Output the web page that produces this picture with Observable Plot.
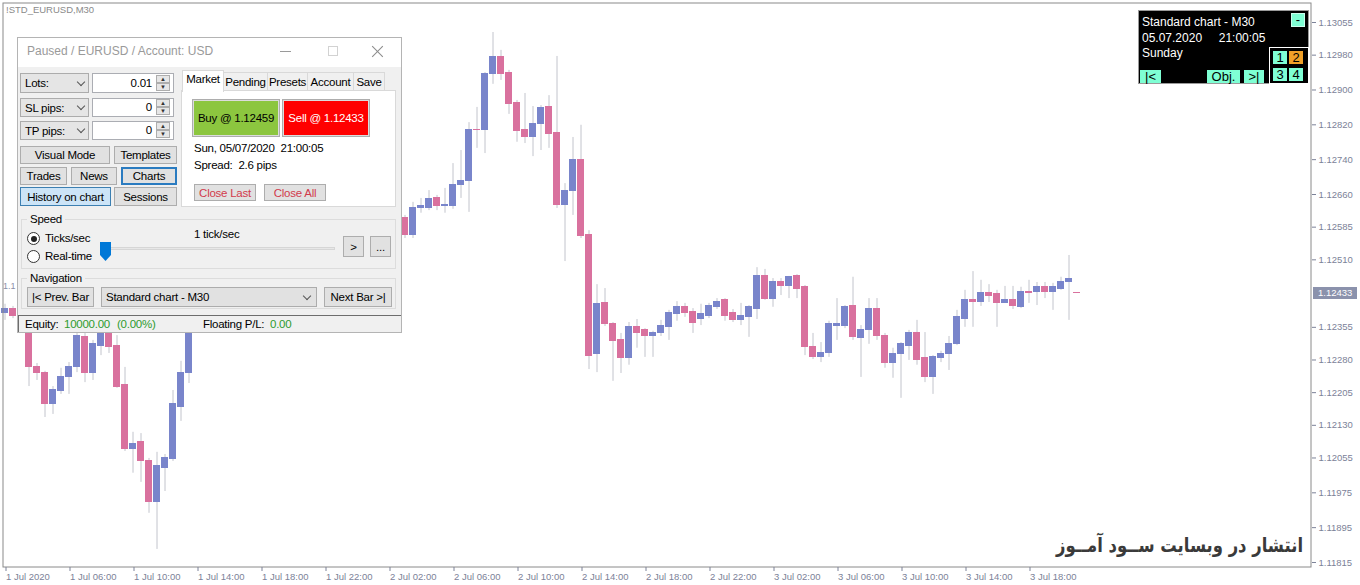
<!DOCTYPE html>
<html><head><meta charset="utf-8">
<script src="https://cdn.jsdelivr.net/npm/d3@7"></script>
<script src="https://cdn.jsdelivr.net/npm/@observablehq/plot@0.6"></script>
<style>
html,body{margin:0;background:#fff;overflow:hidden;}
#wrap{position:relative;width:1360px;height:585px;overflow:hidden;font-family:"Liberation Sans",Arial,sans-serif;}
#wrap svg{position:absolute;left:0;top:0;}
.a{position:absolute;box-sizing:border-box;white-space:pre;}
.t{position:absolute;white-space:pre;font-size:11.5px;letter-spacing:-0.25px;line-height:14px;color:#000;}
.b{position:absolute;box-sizing:border-box;background:#e1e1e1;border:1px solid #adadad;display:flex;align-items:center;justify-content:center;font-size:11.5px;letter-spacing:-0.25px;white-space:pre;color:#000;}
.dd{position:absolute;box-sizing:border-box;background:#e5e5e5;border:1px solid #acacac;font-size:11.5px;letter-spacing:-0.25px;white-space:pre;display:flex;align-items:center;padding-left:4px;}
.chev{position:absolute;width:5px;height:5px;border-right:1px solid #555;border-bottom:1px solid #555;transform:rotate(45deg);}
.inp{position:absolute;box-sizing:border-box;background:#fff;border:1px solid #abadb3;}
.spin{position:absolute;box-sizing:border-box;width:14px;height:8px;background:#e6e6e6;border:1px solid #adadad;font-size:6px;line-height:6px;text-align:center;color:#333;}
.aq{position:absolute;box-sizing:border-box;background:#7fffd4;color:#000;font-size:13px;display:flex;align-items:center;justify-content:center;line-height:12px;}
.w{position:absolute;white-space:pre;color:#fff;font-size:12px;line-height:14px;}
.g{color:#2e9b2e;}
</style></head>
<body>
<div id="wrap">
  <div class="a" style="left:6px;top:4px;font-size:9.5px;color:#8a8a8a;">!STD_EURUSD,M30</div>
  <div class="a" style="left:3px;top:281px;font-size:9px;color:#8a8fa8;">1.1</div>

  <!-- tester control window -->
  <div class="a" style="left:17px;top:37px;width:385px;height:296px;background:#f0f0f0;border:1px solid #b4b4b4;"></div>
  <div class="a" style="left:18px;top:38px;width:383px;height:29px;background:#fff;"></div>
  <div class="t" style="left:27px;top:44px;font-size:12px;color:#9a9a9a;letter-spacing:0;">Paused / EURUSD / Account: USD</div>
  <div class="a" style="left:280px;top:51px;width:11px;height:1px;background:#9a9a9a;"></div>
  <div class="a" style="left:328px;top:46px;width:10px;height:10px;border:1px solid #d2d2d2;"></div>
  <div class="a" style="left:370px;top:51px;width:15px;height:1px;background:#8a8a8a;transform:rotate(45deg);"></div>
  <div class="a" style="left:370px;top:51px;width:15px;height:1px;background:#8a8a8a;transform:rotate(-45deg);"></div>

  <div class="dd" style="left:20px;top:73px;width:69px;height:20px;">Lots:</div>
  <div class="chev" style="left:78px;top:79px;"></div>
  <div class="inp" style="left:92px;top:73px;width:82px;height:20px;"></div>
  <div class="t" style="left:100px;top:76px;width:52px;text-align:right;">0.01</div>
  <div class="spin" style="left:156px;top:75px;">▲</div><div class="spin" style="left:156px;top:83px;">▼</div>

  <div class="dd" style="left:20px;top:98px;width:69px;height:19px;">SL pips:</div>
  <div class="chev" style="left:78px;top:103px;"></div>
  <div class="inp" style="left:92px;top:98px;width:82px;height:19px;"></div>
  <div class="t" style="left:100px;top:100px;width:52px;text-align:right;">0</div>
  <div class="spin" style="left:156px;top:99px;">▲</div><div class="spin" style="left:156px;top:107px;">▼</div>

  <div class="dd" style="left:20px;top:121px;width:69px;height:19px;">TP pips:</div>
  <div class="chev" style="left:78px;top:126px;"></div>
  <div class="inp" style="left:92px;top:121px;width:82px;height:19px;"></div>
  <div class="t" style="left:100px;top:123px;width:52px;text-align:right;">0</div>
  <div class="spin" style="left:156px;top:122px;">▲</div><div class="spin" style="left:156px;top:130px;">▼</div>

  <div class="b" style="left:20px;top:146px;width:90px;height:18px;">Visual Mode</div>
  <div class="b" style="left:114px;top:146px;width:63px;height:18px;">Templates</div>
  <div class="b" style="left:20px;top:167px;width:47px;height:18px;">Trades</div>
  <div class="b" style="left:71px;top:167px;width:46px;height:18px;">News</div>
  <div class="b" style="left:121px;top:167px;width:56px;height:18px;border:2px solid #2a7bc0;">Charts</div>
  <div class="b" style="left:20px;top:187px;width:91px;height:19px;background:#cce4f7;border:1px solid #3c7fb1;">History on chart</div>
  <div class="b" style="left:114px;top:187px;width:63px;height:19px;">Sessions</div>

  <div class="a" style="left:181px;top:90px;width:215px;height:117px;background:#fff;border:1px solid #d9d9d9;"></div>
  <div class="b" style="left:223px;top:72px;width:45px;height:19px;background:#f0f0f0;border-color:#d9d9d9;">Pending</div>
  <div class="b" style="left:267px;top:72px;width:41px;height:19px;background:#f0f0f0;border-color:#d9d9d9;">Presets</div>
  <div class="b" style="left:307px;top:72px;width:47px;height:19px;background:#f0f0f0;border-color:#d9d9d9;">Account</div>
  <div class="b" style="left:353px;top:72px;width:32px;height:19px;background:#f0f0f0;border-color:#d9d9d9;">Save</div>
  <div class="b" style="left:182px;top:70px;width:42px;height:22px;background:#fff;border-color:#d9d9d9;border-bottom:none;align-items:flex-start;padding-top:2px;">Market</div>

  <div class="a" style="left:192px;top:99px;width:88px;height:38px;background:#dcdcdc;border:1px solid #adadad;"></div>
  <div class="b" style="left:194px;top:101px;width:84px;height:34px;background:#8cc63f;border:none;">Buy @ 1.12459</div>
  <div class="a" style="left:282px;top:99px;width:88px;height:38px;background:#dcdcdc;border:1px solid #adadad;"></div>
  <div class="b" style="left:284px;top:101px;width:84px;height:34px;background:#ff0000;border:none;color:#fff;">Sell @ 1.12433</div>
  <div class="t" style="left:194px;top:141px;">Sun, 05/07/2020  21:00:05</div>
  <div class="t" style="left:194px;top:158px;">Spread:  2.6 pips</div>
  <div class="b" style="left:194px;top:184px;width:62px;height:17px;color:#d23a4c;">Close Last</div>
  <div class="b" style="left:264px;top:184px;width:62px;height:17px;color:#d23a4c;">Close All</div>

  <div class="a" style="left:21px;top:219px;width:375px;height:50px;border:1px solid #dcdcdc;"></div>
  <div class="t" style="left:27px;top:212px;background:#f0f0f0;padding:0 3px;">Speed</div>
  <div class="a" style="left:27px;top:232px;width:13px;height:13px;border:1px solid #333;border-radius:50%;background:#fff;"></div>
  <div class="a" style="left:30.5px;top:235.5px;width:6px;height:6px;border-radius:50%;background:#222;"></div>
  <div class="t" style="left:45px;top:231px;">Ticks/sec</div>
  <div class="a" style="left:27px;top:250px;width:13px;height:13px;border:1px solid #333;border-radius:50%;background:#fff;"></div>
  <div class="t" style="left:45px;top:249px;">Real-time</div>
  <div class="t" style="left:194px;top:227px;">1 tick/sec</div>
  <div class="a" style="left:106px;top:247px;width:229px;height:3px;background:#e7e7e7;border:1px solid #d6d6d6;"></div>
  <div class="a" style="left:100px;top:242px;width:11px;height:19px;background:#0078d7;clip-path:polygon(0 0,100% 0,100% 68%,50% 100%,0 68%);"></div>
  <div class="b" style="left:343px;top:236px;width:21px;height:21px;">&gt;</div>
  <div class="b" style="left:370px;top:236px;width:21px;height:21px;">...</div>

  <div class="a" style="left:21px;top:278px;width:375px;height:31px;border:1px solid #dcdcdc;"></div>
  <div class="t" style="left:27px;top:271px;background:#f0f0f0;padding:0 3px;">Navigation</div>
  <div class="b" style="left:27px;top:287px;width:67px;height:20px;">|&lt; Prev. Bar</div>
  <div class="dd" style="left:101px;top:287px;width:216px;height:20px;background:#e1e1e1;">Standard chart - M30</div>
  <div class="chev" style="left:304px;top:293px;"></div>
  <div class="b" style="left:324px;top:287px;width:68px;height:20px;">Next Bar &gt;|</div>

  <div class="a" style="left:18px;top:315px;width:383px;height:17px;border-top:1px solid #6d6d6d;border-left:1px solid #6d6d6d;background:#f0f0f0;"></div>
  <div class="t" style="left:25px;top:317px;">Equity:</div>
  <div class="t g" style="left:64px;top:317px;">10000.00</div>
  <div class="t g" style="left:117px;top:317px;">(0.00%)</div>
  <div class="t" style="left:203px;top:317px;">Floating P/L:</div>
  <div class="t g" style="left:270px;top:317px;">0.00</div>

  <!-- info box -->
  <div class="a" style="left:1138px;top:10px;width:171px;height:74px;background:#000;border:1px solid #9a9a9a;"></div>
  <div class="w" style="left:1142px;top:15px;">Standard chart - M30</div>
  <div class="w" style="left:1142px;top:31px;">05.07.2020     21:00:05</div>
  <div class="w" style="left:1142px;top:46px;">Sunday</div>
  <div class="aq" style="left:1291px;top:13px;width:14px;height:14px;border:1px solid #cfe;">-</div>
  <div class="aq" style="left:1140px;top:70px;width:21px;height:13px;">|&lt;</div>
  <div class="aq" style="left:1207px;top:70px;width:33px;height:13px;">Obj.</div>
  <div class="aq" style="left:1244px;top:70px;width:20px;height:13px;">&gt;|</div>
  <div class="a" style="left:1269px;top:47px;width:40px;height:37px;border:1px solid #fff;"></div>
  <div class="aq" style="left:1273px;top:51px;width:14px;height:13px;">1</div>
  <div class="aq" style="left:1289px;top:51px;width:14px;height:13px;background:#f0a028;">2</div>
  <div class="aq" style="left:1273px;top:68px;width:14px;height:13px;">3</div>
  <div class="aq" style="left:1289px;top:68px;width:14px;height:13px;">4</div>

  <div class="a" style="left:1000px;top:533px;width:303px;height:30px;text-align:right;direction:rtl;font-family:'DejaVu Sans',sans-serif;font-weight:bold;font-size:20px;color:#3a3a3a;transform:scaleX(0.82);transform-origin:right center;">انتشار در وبسایت ســود آمــوز</div>
  <div id="bid" class="a" style="left:1313px;width:44px;height:12px;background:#8b92ac;color:#fff;font-size:9.5px;line-height:12px;padding-left:5px;"></div>
</div>
<script>
// EURUSD M30 candles, bar index 0 = 1 Jul 02:00
const openP = [
1.12387,1.12398,1.12380,1.12408,1.12265,1.12249,1.12178,1.12208,1.12240,1.12263,
1.12332,1.12249,1.12313,1.12366,1.12313,1.12222,1.12075,1.12091,1.12049,1.11953,
1.12033,1.12052,1.12173,1.12249,1.12371,1.12417,1.12440,1.12421,1.12474,1.12504,
1.12486,1.12527,1.12513,1.12532,1.12545,1.12522,1.12504,1.12518,1.12536,1.12527,
1.12513,1.12532,1.12550,1.12541,1.12559,1.12555,1.12568,1.12564,1.12582,1.12591,
1.12605,1.12568,1.12628,1.12630,1.12651,1.12633,1.12633,1.12681,1.12690,1.12809,
1.12807,1.12936,1.12975,1.12938,1.12869,1.12807,1.12791,1.12821,1.12860,1.12802,
1.12635,1.12669,1.12740,1.12568,1.12293,1.12410,1.12362,1.12325,1.12284,1.12355,
1.12348,1.12334,1.12341,1.12355,1.12385,1.12401,1.12391,1.12375,1.12382,1.12401,
1.12417,1.12387,1.12371,1.12378,1.12398,1.12474,1.12421,1.12458,1.12449,1.12472,
1.12447,1.12309,1.12286,1.12295,1.12359,1.12359,1.12403,1.12330,1.12350,1.12398,
1.12336,1.12274,1.12293,1.12313,1.12341,1.12284,1.12242,1.12284,1.12293,1.12316,
1.12375,1.12417,1.12414,1.12433,1.12431,1.12412,1.12417,1.12401,1.12435,1.12435,
1.12447,1.12435,1.12444,1.12458,1.12433];
const highP = [
1.12408,1.12403,1.12421,1.12417,1.12272,1.12254,1.12219,1.12261,1.12274,1.12348,
1.12343,1.12325,1.12382,1.12375,1.12336,1.12263,1.12114,1.12111,1.12054,1.12068,
1.12063,1.12210,1.12277,1.12394,1.12428,1.12451,1.12463,1.12486,1.12520,1.12532,
1.12536,1.12555,1.12543,1.12559,1.12564,1.12541,1.12532,1.12545,1.12555,1.12543,
1.12541,1.12559,1.12564,1.12568,1.12582,1.12577,1.12591,1.12587,1.12605,1.12614,
1.12612,1.12642,1.12651,1.12669,1.12658,1.12674,1.12731,1.12761,1.12825,1.12860,
1.12940,1.13032,1.12991,1.12945,1.12876,1.12892,1.12862,1.12864,1.12887,1.12977,
1.12685,1.12791,1.12819,1.12577,1.12453,1.12444,1.12366,1.12341,1.12366,1.12373,
1.12352,1.12346,1.12371,1.12394,1.12414,1.12410,1.12398,1.12408,1.12410,1.12421,
1.12421,1.12396,1.12410,1.12405,1.12492,1.12488,1.12467,1.12467,1.12472,1.12476,
1.12451,1.12341,1.12320,1.12369,1.12421,1.12405,1.12470,1.12359,1.12421,1.12421,
1.12341,1.12307,1.12320,1.12348,1.12371,1.12343,1.12290,1.12300,1.12334,1.12394,
1.12440,1.12483,1.12463,1.12453,1.12440,1.12449,1.12449,1.12447,1.12463,1.12458,
1.12458,1.12456,1.12470,1.12520,1.12433];
const lowP = [
1.12371,1.12375,1.12371,1.12219,1.12233,1.12148,1.12155,1.12201,1.12201,1.12251,
1.12228,1.12233,1.12290,1.12295,1.12215,1.12070,1.12020,1.11999,1.11928,1.11845,
1.11978,1.12047,1.12139,1.12226,1.12359,1.12394,1.12405,1.12412,1.12458,1.12474,
1.12476,1.12504,1.12490,1.12518,1.12513,1.12495,1.12486,1.12504,1.12520,1.12504,
1.12499,1.12522,1.12532,1.12532,1.12545,1.12541,1.12555,1.12550,1.12568,1.12582,
1.12559,1.12559,1.12617,1.12623,1.12623,1.12617,1.12626,1.12651,1.12619,1.12766,
1.12754,1.12913,1.12922,1.12844,1.12780,1.12777,1.12747,1.12761,1.12766,1.12628,
1.12506,1.12612,1.12559,1.12258,1.12251,1.12357,1.12231,1.12249,1.12268,1.12307,
1.12286,1.12286,1.12334,1.12325,1.12369,1.12378,1.12341,1.12359,1.12375,1.12396,
1.12369,1.12366,1.12359,1.12332,1.12373,1.12417,1.12401,1.12428,1.12421,1.12421,
1.12290,1.12281,1.12274,1.12286,1.12325,1.12352,1.12325,1.12240,1.12316,1.12325,
1.12261,1.12238,1.12192,1.12279,1.12268,1.12228,1.12201,1.12274,1.12256,1.12313,
1.12355,1.12355,1.12403,1.12412,1.12355,1.12410,1.12396,1.12398,1.12410,1.12405,
1.12421,1.12394,1.12440,1.12371,1.12433];
const closeP = [
1.12396,1.12380,1.12410,1.12263,1.12249,1.12178,1.12210,1.12240,1.12265,1.12334,
1.12249,1.12316,1.12371,1.12309,1.12219,1.12075,1.12088,1.12047,1.11953,1.12036,
1.12056,1.12178,1.12251,1.12371,1.12417,1.12440,1.12421,1.12474,1.12504,1.12486,
1.12527,1.12513,1.12532,1.12545,1.12522,1.12504,1.12518,1.12536,1.12527,1.12513,
1.12532,1.12550,1.12541,1.12559,1.12555,1.12568,1.12564,1.12582,1.12591,1.12605,
1.12568,1.12630,1.12633,1.12649,1.12633,1.12637,1.12681,1.12692,1.12809,1.12807,
1.12936,1.12975,1.12936,1.12867,1.12805,1.12793,1.12821,1.12858,1.12800,1.12635,
1.12669,1.12740,1.12564,1.12290,1.12408,1.12362,1.12323,1.12284,1.12355,1.12343,
1.12334,1.12341,1.12357,1.12387,1.12401,1.12387,1.12366,1.12385,1.12403,1.12414,
1.12382,1.12371,1.12380,1.12401,1.12474,1.12421,1.12458,1.12449,1.12470,1.12444,
1.12309,1.12286,1.12297,1.12362,1.12362,1.12401,1.12332,1.12350,1.12398,1.12334,
1.12274,1.12293,1.12316,1.12341,1.12279,1.12242,1.12286,1.12293,1.12316,1.12378,
1.12417,1.12414,1.12433,1.12428,1.12412,1.12417,1.12403,1.12435,1.12433,1.12447,
1.12437,1.12447,1.12458,1.12465,1.12433];

const xTickIdx = [0,8,16,24,32,40,48,56,64,72,80,88,96,104,112,120,128];
const xLabels = ["1 Jul 2020","1 Jul 06:00","1 Jul 10:00","1 Jul 14:00","1 Jul 18:00","1 Jul 22:00",
  "2 Jul 02:00","2 Jul 06:00","2 Jul 10:00","2 Jul 14:00","2 Jul 18:00","2 Jul 22:00",
  "3 Jul 02:00","3 Jul 06:00","3 Jul 10:00","3 Jul 14:00","3 Jul 18:00"];
const yTicks = [1.13055,1.12980,1.12900,1.12820,1.12740,1.12660,1.12585,1.12510,
  1.12355,1.12280,1.12205,1.12130,1.12055,1.11975,1.11895,1.11815];
const bidPrice = 1.12433;

const bullColor = "#7985cb", bearColor = "#d9719e", wickColor = "#c2c4cc", axisColor = "#7c8298";

const candles = openP.map((o, i) => ({i, open: o, high: highP[i], low: lowP[i], close: closeP[i]}));

const chart = Plot.plot({
  width: 1360, height: 585,
  marginLeft: 2, marginRight: 49, marginTop: 2, marginBottom: 18,
  x: {type: "linear", domain: [-0.3125, 163.3125], label: null},
  y: {domain: [1.118035, 1.131009], label: null},
  style: {fontFamily: "'Liberation Sans', Arial, sans-serif", fontSize: "9.5px", background: "#fff", overflow: "visible"},
  marks: [
    Plot.ruleX(candles, {x: "i", y1: "low", y2: "high", stroke: wickColor, strokeWidth: 1}),
    Plot.rect(candles.filter(d => d.close > d.open), {x1: d => d.i - 0.4375, x2: d => d.i + 0.4375, y1: "open", y2: "close", fill: bullColor, insetTop: -0.5, insetBottom: -0.5, shapeRendering: "crispEdges"}),
    Plot.rect(candles.filter(d => d.close <= d.open), {x1: d => d.i - 0.4375, x2: d => d.i + 0.4375, y1: "open", y2: "close", fill: bearColor, insetTop: -0.5, insetBottom: -0.5, shapeRendering: "crispEdges"}),
    Plot.frame({stroke: "#8a8a8a", inset: 0.5}),
    Plot.axisY(yTicks, {anchor: "right", label: null, tickSize: 4, tickPadding: 3, tickFormat: d => d.toFixed(5), fill: axisColor, stroke: axisColor}),
    Plot.axisX(xTickIdx, {anchor: "bottom", label: null, tickSize: 4, tickPadding: 2, tickFormat: d => xLabels[xTickIdx.indexOf(d)], textAnchor: "start", dx: 1, fill: axisColor, stroke: axisColor})
  ]
});
const wrap = document.getElementById("wrap");
wrap.prepend(chart);
const bid = document.getElementById("bid");
bid.textContent = bidPrice.toFixed(5);
bid.style.top = (chart.scale("y").apply(bidPrice) - 6) + "px";
</script>
</body></html>
